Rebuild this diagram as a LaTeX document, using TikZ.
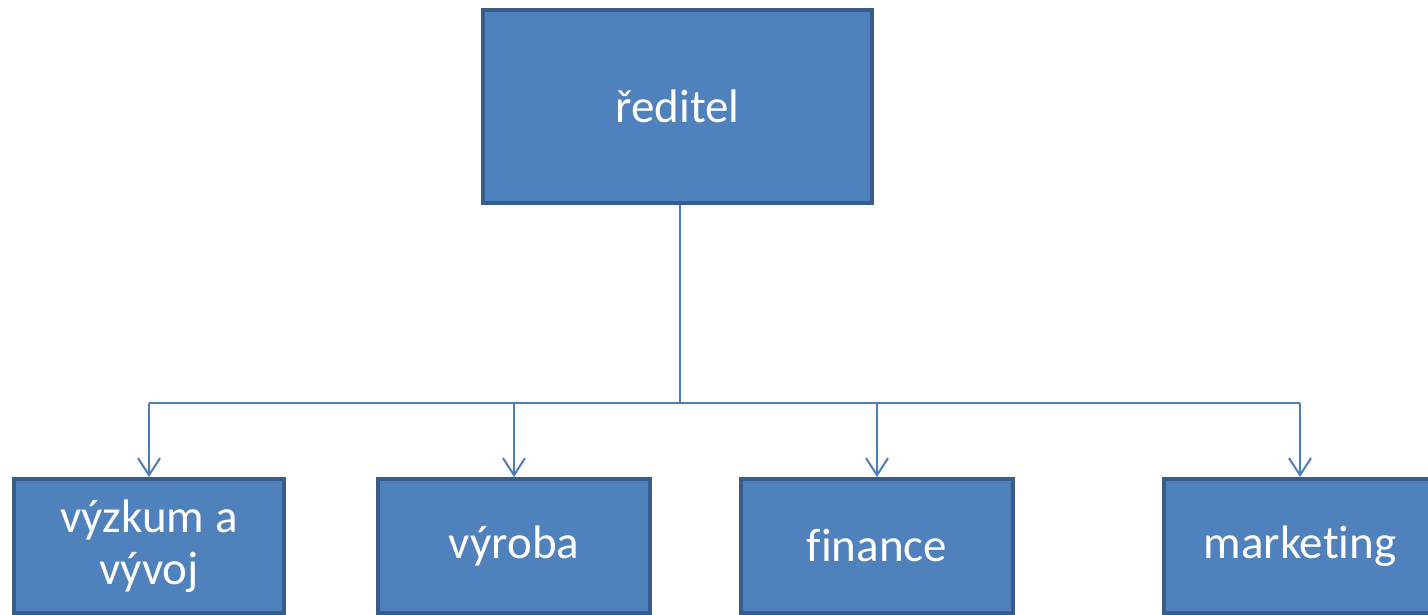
\documentclass[tikz,border=0pt]{standalone}
\usepackage{fontspec}
\setmainfont{Carlito}[Ligatures={NoCommon}]
\usetikzlibrary{arrows.meta}
\definecolor{boxfill}{HTML}{4F81BD}
\definecolor{boxline}{HTML}{385D8A}
\definecolor{conncol}{HTML}{4A7EBB}
\begin{document}
\begin{tikzpicture}[x=1pt,y=1pt,
  orgbox/.style={draw=boxline,fill=boxfill,line width=4pt,rectangle,
    text=white,font=\fontsize{47}{52}\selectfont,align=center,inner sep=0pt},
  conn/.style={draw=conncol,line width=2pt},
  arr/.style={conn,-{Straight Barb[length=17pt,width=22pt,line width=2pt]}}]
\useasboundingbox (0,0) rectangle (1428,615);
\clip (0,0) rectangle (1428,615);
\node[orgbox,minimum width=389pt,minimum height=193pt] (top) at (677.5,508.5) {ředitel};
\node[orgbox,minimum width=270pt,minimum height=134pt] (b1) at (149,69) {\raisebox{-3pt}{\parbox{260pt}{\centering výzkum a\\vývoj}}};
\node[orgbox,minimum width=272pt,minimum height=134pt] (b2) at (514,69) {výroba};
\node[orgbox,minimum width=272pt,minimum height=134pt] (b3) at (877,69) {finance};
\node[orgbox,minimum width=272pt,minimum height=134pt] (b4) at (1300,69) {marketing};
\coordinate (j) at (680,212);
\draw[conn] (top.south -| j) -- (j);
\draw[conn] (j -| b1.north) -- (j -| b4.north);
\draw[arr] (j -| b1.north) -- (b1.north);
\draw[arr] (j -| b2.north) -- (b2.north);
\draw[arr] (j -| b3.north) -- (b3.north);
\draw[arr] (j -| b4.north) -- (b4.north);
\end{tikzpicture}
\end{document}
